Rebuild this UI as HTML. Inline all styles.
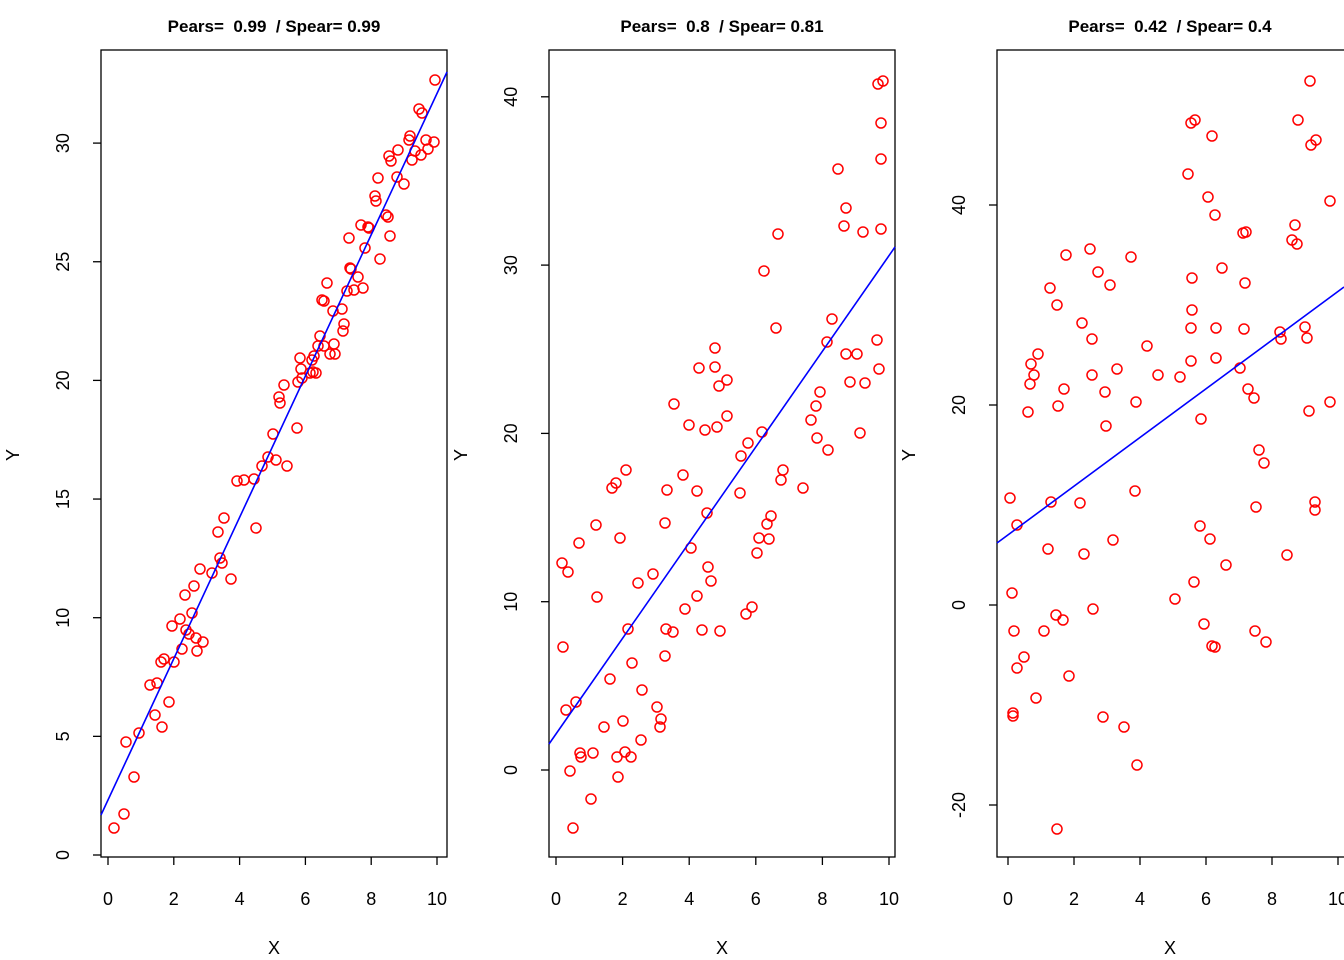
<!DOCTYPE html>
<html><head><meta charset="utf-8"><style>html,body{margin:0;padding:0;background:#fff}svg{display:block}.t text{white-space:pre}</style></head>
<body>
<svg id="s" width="1344" height="960" xmlns="http://www.w3.org/2000/svg" font-family="Liberation Sans, sans-serif">
<rect width="1344" height="960" fill="#fff"/>
<g class="t" font-weight="bold" font-size="17" text-anchor="middle" xml:space="preserve">
<text x="274" y="32" xml:space="preserve">Pears=  0.99  / Spear= 0.99</text>
<text x="722" y="32" xml:space="preserve">Pears=  0.8  / Spear= 0.81</text>
<text x="1170" y="32" xml:space="preserve">Pears=  0.42  / Spear= 0.4</text>
</g>
<g fill="none" stroke="#000" stroke-width="1.3">
<rect x="101" y="50" width="346" height="807"/>
<rect x="549" y="50" width="346" height="807"/>
<rect x="997" y="50" width="360" height="807"/>
</g>
<g font-size="18" text-anchor="middle" fill="#000">
<text x="274" y="954">X</text><text x="722" y="954">X</text><text x="1170" y="954">X</text>
<text transform="translate(19,455) rotate(-90)">Y</text>
<text transform="translate(467,455) rotate(-90)">Y</text>
<text transform="translate(915,455) rotate(-90)">Y</text>
</g>
<g id="ticks" stroke="#000" stroke-width="1.3" font-size="18" text-anchor="middle"></g>
<g id="pts" fill="none" stroke="#f00" stroke-width="1.5"></g>
<g stroke="#00f" stroke-width="1.6">
<line x1="101" y1="815" x2="447" y2="72"/>
<line x1="549" y1="744" x2="895" y2="247"/>
<line x1="997" y1="543" x2="1344" y2="287"/>
</g>
</svg>
<script>
var NS="http://www.w3.org/2000/svg",T=document.getElementById('ticks'),P=document.getElementById('pts');
function el(n,a,t){var e=document.createElementNS(NS,n);for(var k in a)e.setAttribute(k,a[k]);if(t!=null)e.textContent=t;T.appendChild(e);return e;}
function xt(x0,x10){for(var v=0;v<=10;v+=2){var x=x0+(x10-x0)*v/10;el('line',{x1:x,y1:857,x2:x,y2:865});el('text',{x:x,y:905,stroke:'none'},v);}}
function yt(bx,vals,y0,ppu){vals.forEach(function(v){var y=y0-v*ppu;el('line',{x1:bx,y1:y,x2:bx-8,y2:y});el('text',{transform:'translate('+(bx-38)+','+y+') rotate(-90)',y:6,stroke:'none'},v);});}
xt(108,437);xt(556,889);xt(1008,1338);
yt(101,[0,5,10,15,20,25,30],855,23.73);
yt(549,[0,10,20,30,40],770,16.83);
yt(997,[-20,0,20,40],605,10);
var d=[114,828,124,814,126,742,134,777,139,733,150,685,155,715,157,683,161,662,162,727,164,659,169,702,172,626,174,662,180,619,182,649,185,595,186,630,189,634,192,613,194,586,196,638,197,651,200,569,203,642,212,573,218,532,220,558,222,563,224,518,231,579,237,481,244,480,254,479,256,528,262,466,268,457,273,434,276,460,279,397,280,403,284,385,287,466,297,428,298,382,300,358,301,369,302,378,310,373,312,360,313,372,314,356,316,373,318,346,320,336,322,300,324,301,324,346,327,283,330,354,333,311,334,344,335,354,342,309,343,331,344,324,347,291,349,238,350,268,351,269,354,290,358,277,361,225,363,288,365,248,368,227,369,228,375,196,376,201,378,178,380,259,386,215,388,217,389,156,390,236,391,161,397,177,398,150,404,184,409,140,410,136,412,160,415,151,419,109,421,155,422,113,426,140,428,149,434,142,435,80,
562,563,563,647,566,710,568,572,570,771,573,828,576,702,579,543,580,753,581,757,591,799,593,753,596,525,597,597,604,727,610,679,612,488,616,483,617,757,618,777,620,538,623,721,625,752,626,470,628,629,631,757,632,663,638,583,641,740,642,690,653,574,657,707,660,727,661,719,665,656,665,523,666,629,667,490,673,632,674,404,683,475,685,609,689,425,691,548,697,491,697,596,699,368,702,630,705,430,707,513,708,567,711,581,715,348,715,367,717,427,719,386,720,631,727,380,727,416,740,493,741,456,746,614,748,443,752,607,757,553,759,538,762,432,764,271,767,524,769,539,771,516,776,328,778,234,781,480,783,470,803,488,811,420,816,406,817,438,820,392,827,342,828,450,832,319,838,169,844,226,846,208,846,354,850,382,857,354,860,433,863,232,865,383,877,340,878,84,879,369,881,123,881,229,881,159,883,81,
1010,498,1012,593,1013,713,1013,716,1014,631,1017,525,1017,668,1024,657,1028,412,1030,384,1031,364,1034,375,1036,698,1038,354,1044,631,1048,549,1050,288,1051,502,1056,615,1057,305,1058,406,1057,829,1063,620,1064,389,1066,255,1069,676,1082,323,1080,503,1084,554,1090,249,1092,339,1092,375,1093,609,1098,272,1103,717,1106,426,1105,392,1110,285,1113,540,1117,369,1124,727,1131,257,1135,491,1136,402,1137,765,1147,346,1158,375,1175,599,1180,377,1188,174,1191,328,1191,123,1191,361,1192,278,1192,310,1194,582,1195,120,1200,526,1201,419,1204,624,1208,197,1210,539,1212,646,1212,136,1215,647,1215,215,1216,358,1216,328,1222,268,1226,565,1240,368,1243,233,1244,329,1245,283,1246,232,1248,389,1254,398,1255,631,1256,507,1259,450,1264,463,1266,642,1280,332,1281,339,1287,555,1292,240,1295,225,1297,244,1298,120,1305,327,1307,338,1309,411,1310,81,1311,145,1315,510,1315,502,1316,140,1330,201,1330,402];
for(var i=0;i<d.length;i+=2){var c=document.createElementNS(NS,'circle');c.setAttribute('cx',d[i]);c.setAttribute('cy',d[i+1]);c.setAttribute('r',5);P.appendChild(c);}
</script>
</body></html>
